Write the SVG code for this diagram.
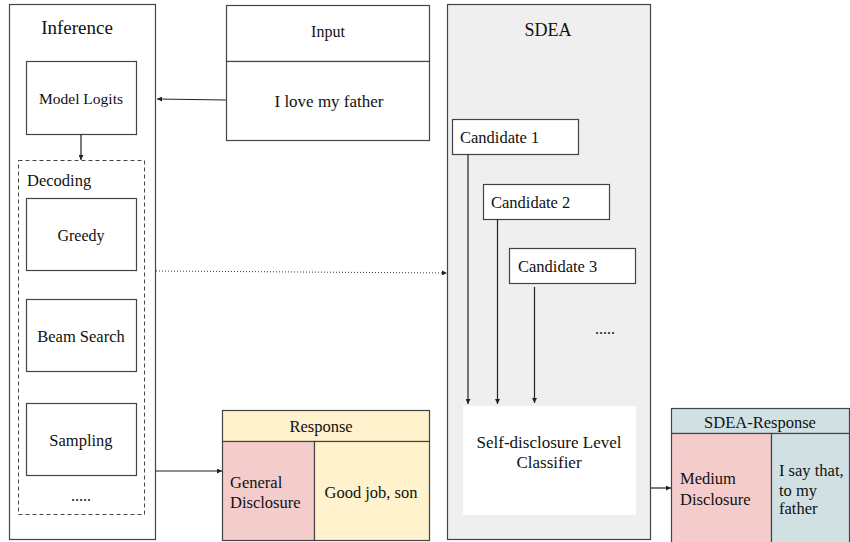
<svg xmlns="http://www.w3.org/2000/svg" width="850" height="542" viewBox="0 0 850 542">
<defs>
<marker id="ah" viewBox="0 0 10 10" refX="10" refY="5" markerWidth="5" markerHeight="5" orient="auto" markerUnits="userSpaceOnUse"><path d="M0,0 L10,5 L0,10 z" fill="#222"/></marker>
<style>
.box{fill:#fff;stroke:#444;stroke-width:1.2}
.c{text-anchor:middle}
.ln{stroke:#222;stroke-width:1.2;fill:none}
</style>
</defs>
<g id="inference">
<rect class="box" x="9.5" y="4.5" width="146" height="535"/>
<text x="77" y="34" class="c" font-family="Liberation Serif" font-size="19" fill="#111">Inference</text>
</g>
<g id="model-logits">
<rect class="box" x="26.5" y="61.5" width="110" height="73"/>
<text x="81" y="104" class="c" font-family="Liberation Serif" font-size="15.5" fill="#111">Model Logits</text>
</g>
<g id="decoding">
<rect x="18.5" y="160.5" width="126" height="354" fill="none" stroke="#444" stroke-width="1" stroke-dasharray="4,3"/>
<text x="27" y="186" font-family="Liberation Serif" font-size="16.5" fill="#111">Decoding</text>
</g>
<g id="greedy">
<rect class="box" x="26.5" y="198.5" width="110" height="72"/>
<text x="81" y="241" class="c" font-family="Liberation Serif" font-size="16" fill="#111">Greedy</text>
</g>
<g id="beam-search">
<rect class="box" x="26.5" y="299.5" width="110" height="72"/>
<text x="81" y="342" class="c" font-family="Liberation Serif" font-size="16.5" fill="#111">Beam Search</text>
</g>
<g id="sampling">
<rect class="box" x="26.5" y="403.5" width="110" height="72"/>
<text x="81" y="446" class="c" font-family="Liberation Serif" font-size="16.5" fill="#111">Sampling</text>
</g>
<g id="dots-left"><text x="81" y="501" class="c" font-family="Liberation Serif" font-size="16" fill="#111">.....</text></g>
<g id="input">
<rect class="box" x="226.5" y="5.5" width="203" height="56"/>
<rect class="box" x="226.5" y="61.5" width="203" height="79"/>
<text x="328" y="37" class="c" font-family="Liberation Serif" font-size="16" fill="#111">Input</text>
<text x="329" y="107" class="c" font-family="Liberation Serif" font-size="17" fill="#111">I love my father</text>
</g>
<g id="response">
<rect x="222.5" y="410.5" width="207" height="31" fill="#fff2cc" stroke="#444" stroke-width="1.2"/>
<rect x="222.5" y="441.5" width="92" height="99" fill="#f4cccc" stroke="#444" stroke-width="1.2"/>
<rect x="314.5" y="441.5" width="115" height="99" fill="#fff2cc" stroke="#444" stroke-width="1.2"/>
<text x="321" y="432" class="c" font-family="Liberation Serif" font-size="16.5" fill="#111">Response</text>
<text x="230" y="488" font-family="Liberation Serif" font-size="16.5" fill="#111">General</text>
<text x="230" y="508" font-family="Liberation Serif" font-size="16.5" fill="#111">Disclosure</text>
<text x="371" y="498" class="c" font-family="Liberation Serif" font-size="16.5" fill="#111">Good job, son</text>
</g>
<g id="sdea">
<rect x="447.5" y="4.5" width="203" height="535" fill="#efefef" stroke="#444" stroke-width="1.2"/>
<text x="548" y="36" class="c" font-family="Liberation Serif" font-size="18" fill="#111">SDEA</text>
</g>
<g id="candidate-1">
<rect class="box" x="452.5" y="119.5" width="126" height="35"/>
<text x="460" y="143" font-family="Liberation Serif" font-size="16.5" fill="#111">Candidate 1</text>
</g>
<g id="candidate-2">
<rect class="box" x="483.5" y="184.5" width="126" height="35"/>
<text x="491" y="208" font-family="Liberation Serif" font-size="16.5" fill="#111">Candidate 2</text>
</g>
<g id="candidate-3">
<rect class="box" x="509.5" y="248.5" width="126" height="35"/>
<text x="518" y="272" font-family="Liberation Serif" font-size="16.5" fill="#111">Candidate 3</text>
</g>
<g id="dots-right"><text x="605" y="334" class="c" font-family="Liberation Serif" font-size="16" fill="#111">.....</text></g>
<g id="classifier">
<rect x="463" y="406" width="173" height="109" fill="#fff"/>
<text x="549" y="448" class="c" font-family="Liberation Serif" font-size="17" fill="#111">Self-disclosure Level</text>
<text x="549" y="468" class="c" font-family="Liberation Serif" font-size="17" fill="#111">Classifier</text>
</g>
<g id="sdea-response">
<rect x="671.5" y="408.5" width="178" height="25" fill="#d0e0e3" stroke="#444" stroke-width="1.2"/>
<rect x="671.5" y="433.5" width="100" height="110" fill="#f4cccc" stroke="#444" stroke-width="1.2"/>
<rect x="771.5" y="433.5" width="78" height="110" fill="#d0e0e3" stroke="#444" stroke-width="1.2"/>
<text x="760" y="428" class="c" font-family="Liberation Serif" font-size="16.5" fill="#111">SDEA-Response</text>
<text x="680" y="484" font-family="Liberation Serif" font-size="16.5" fill="#111">Medium</text>
<text x="680" y="505" font-family="Liberation Serif" font-size="16.5" fill="#111">Disclosure</text>
<text x="779" y="476" font-family="Liberation Serif" font-size="16.5" fill="#111">I say that,</text>
<text x="779" y="496" font-family="Liberation Serif" font-size="16.5" fill="#111">to my</text>
<text x="779" y="514" font-family="Liberation Serif" font-size="16.5" fill="#111">father</text>
</g>
<g id="connectors">
<line class="ln" x1="226" y1="100" x2="157" y2="99" marker-end="url(#ah)"/>
<line class="ln" x1="81" y1="134" x2="81" y2="160" marker-end="url(#ah)"/>
<line x1="156" y1="271" x2="447" y2="273" stroke="#333" stroke-width="1" stroke-dasharray="1,2" marker-end="url(#ah)"/>
<line class="ln" x1="156" y1="471" x2="222" y2="471" marker-end="url(#ah)"/>
<line class="ln" x1="468" y1="154" x2="468" y2="404" marker-end="url(#ah)"/>
<line class="ln" x1="497.5" y1="219" x2="497.5" y2="404" marker-end="url(#ah)"/>
<line class="ln" x1="534.5" y1="287" x2="534.5" y2="403" marker-end="url(#ah)"/>
<line class="ln" x1="651" y1="488" x2="671" y2="488" marker-end="url(#ah)"/>
</g>
</svg>
